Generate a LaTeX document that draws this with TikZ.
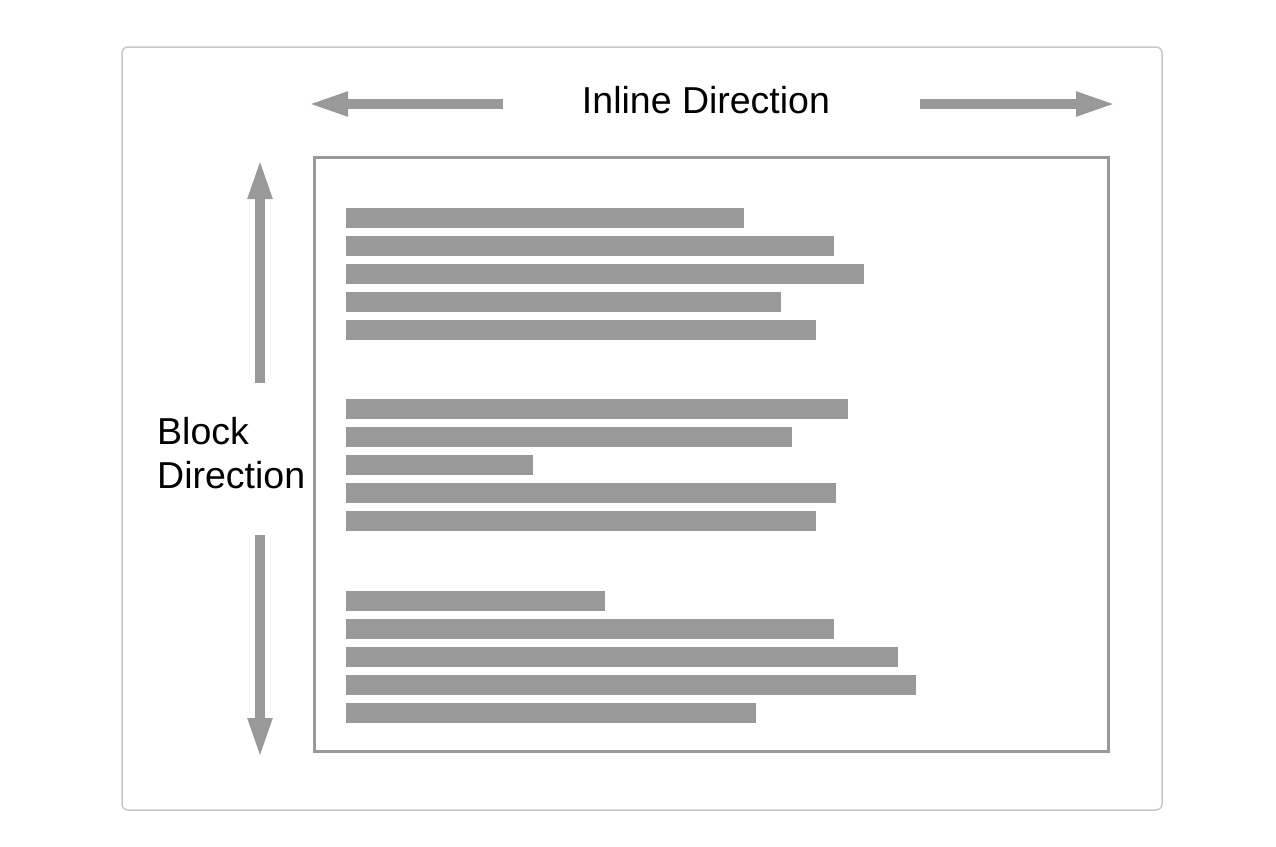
\documentclass[tikz,border=0pt]{standalone}
\usepackage{fontspec}
\setmainfont{Liberation Sans}
\usetikzlibrary{arrows.meta}
\definecolor{bargray}{HTML}{999999}
\definecolor{framegray}{HTML}{C8C8C8}
\tikzset{
    outerbox/.style = {draw=framegray, line width=1.5pt, rounded corners=6pt},
    pagebox/.style = {draw=bargray, line width=3pt},
    textbar/.style = {fill=bargray},
    dirarrow/.style = {draw=bargray, line width=10pt, -{Triangle[length=41pt,width=22pt]}},
    dirlabel/.style = {font=\fontsize{37.5}{44}\selectfont, text=black, inner sep=0pt}
}

\begin{document}
\begin{tikzpicture}[x=1pt,y=-1pt]
\useasboundingbox (0,0) rectangle (1276,846);
\draw[outerbox] (122,47) rectangle (1162,810);
\draw[pagebox] (314,157) rectangle (1108,751);

% labels
\node[dirlabel, anchor=base] (inline) at (706,113) {Inline Direction};
\node[dirlabel, align=left, anchor=west] (block) at (157,453) {Block\\Direction};

% arrows
\coordinate (inLtail) at (503,104);
\coordinate (inLtip) at (307,104);
\coordinate (inRtail) at (920,104);
\coordinate (inRtip) at (1117,104);
\coordinate (blUtail) at (260,383);
\coordinate (blUtip) at (260,158);
\coordinate (blDtail) at (260,535);
\coordinate (blDtip) at (260,759);
\draw[dirarrow] (inLtail) -- (inLtip);
\draw[dirarrow] (inRtail) -- (inRtip);
\draw[dirarrow] (blUtail) -- (blUtip);
\draw[dirarrow] (blDtail) -- (blDtip);

% first paragraph
\fill[textbar] (346,208) rectangle (744,228);
\fill[textbar] (346,236) rectangle (834,256);
\fill[textbar] (346,264) rectangle (864,284);
\fill[textbar] (346,292) rectangle (781,312);
\fill[textbar] (346,320) rectangle (816,340);
% second paragraph
\fill[textbar] (346,399) rectangle (848,419);
\fill[textbar] (346,427) rectangle (792,447);
\fill[textbar] (346,455) rectangle (533,475);
\fill[textbar] (346,483) rectangle (836,503);
\fill[textbar] (346,511) rectangle (816,531);
% third paragraph
\fill[textbar] (346,591) rectangle (605,611);
\fill[textbar] (346,619) rectangle (834,639);
\fill[textbar] (346,647) rectangle (898,667);
\fill[textbar] (346,675) rectangle (916,695);
\fill[textbar] (346,703) rectangle (756,723);
\end{tikzpicture}
\end{document}
